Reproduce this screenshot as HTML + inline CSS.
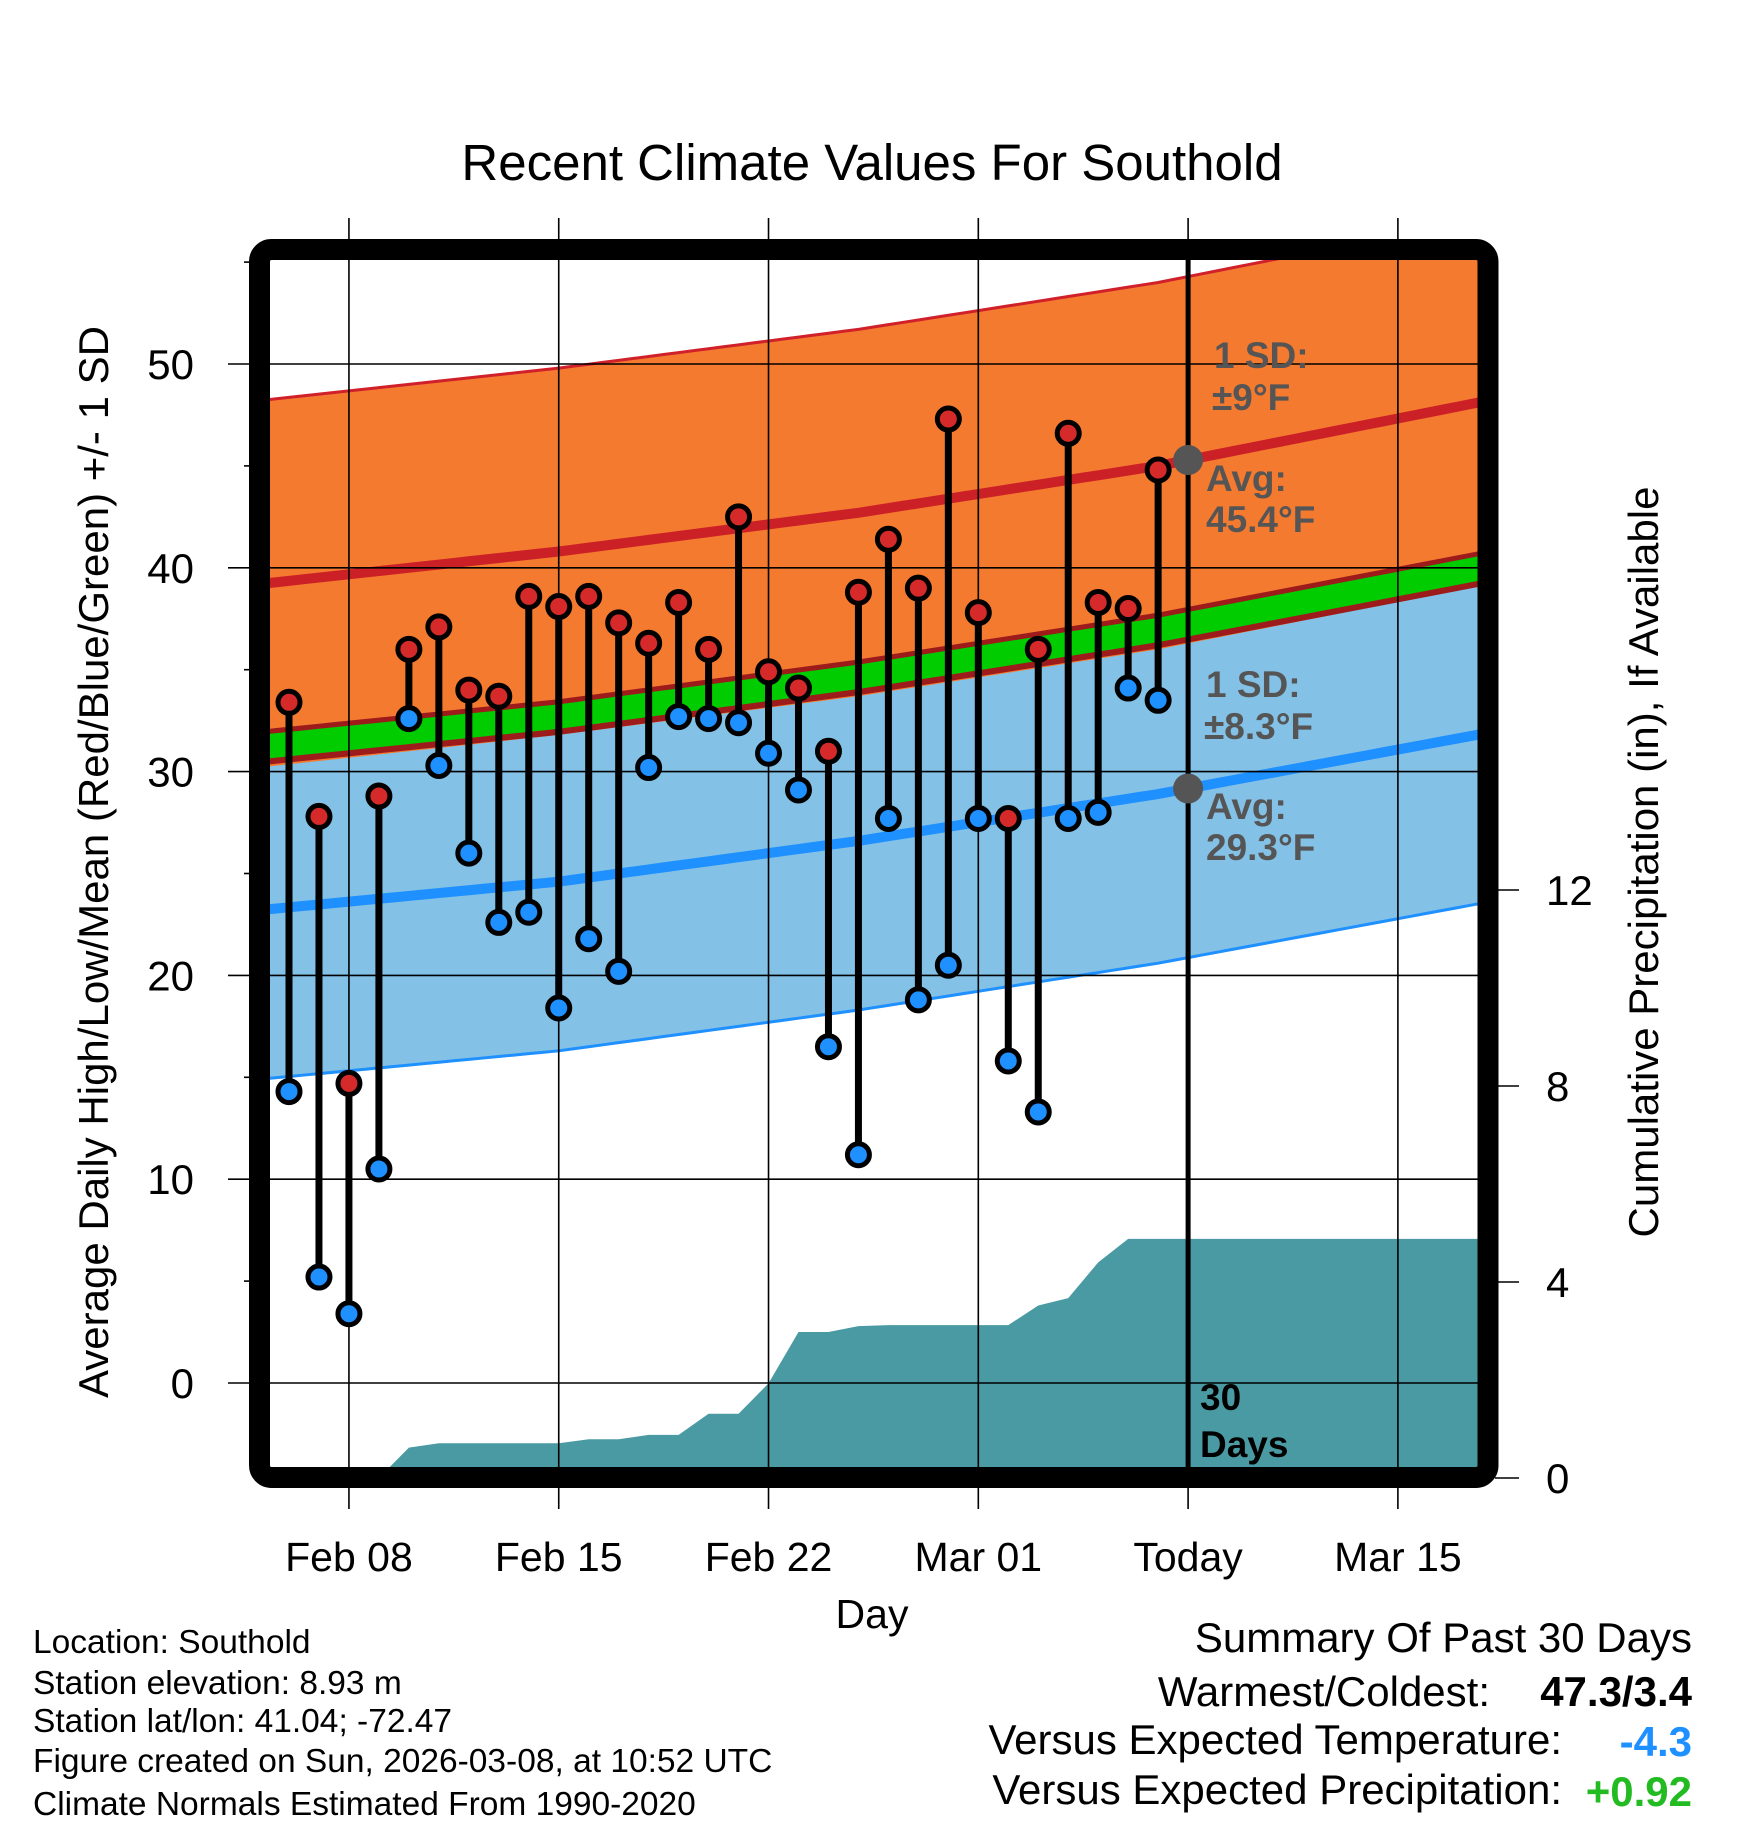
<!DOCTYPE html>
<html><head><meta charset="utf-8"><style>
html,body{margin:0;padding:0;background:#fff}
svg{display:block;font-family:"Liberation Sans",Arial,sans-serif}
</style></head><body>
<svg id="chart" width="1748" height="1828" viewBox="0 0 1748 1828" xmlns="http://www.w3.org/2000/svg">
<defs><clipPath id="plotclip"><rect x="270" y="260" width="1208" height="1208"/></clipPath></defs>
<text x="872" y="180" font-size="51" text-anchor="middle">Recent Climate Values For Southold</text>
<g id="fills" clip-path="url(#plotclip)"></g>
<g id="grid"></g>
<g id="marks"></g>
<rect x="259.5" y="249.5" width="1228.5" height="1228" rx="12" fill="none" stroke="#000" stroke-width="21"/>
<g id="axes"></g>
<text transform="translate(108,862) rotate(-90)" font-size="42" text-anchor="middle">Average Daily High/Low/Mean (Red/Blue/Green) +/- 1 SD</text>
<text transform="translate(1658,862) rotate(-90)" font-size="42" text-anchor="middle">Cumulative Precipitation (in), If Available</text>
<text x="872" y="1628" font-size="41" text-anchor="middle">Day</text>
<g font-size="37" font-weight="bold" fill="#555">
<text x="1214" y="368">1 SD:</text><text x="1212" y="410">±9°F</text>
<text x="1206" y="491">Avg:</text><text x="1206" y="532">45.4°F</text>
<text x="1206" y="697">1 SD:</text><text x="1204" y="739">±8.3°F</text>
<text x="1206" y="819">Avg:</text><text x="1206" y="860">29.3°F</text>
</g>
<g font-size="37" font-weight="bold">
<text x="1200" y="1410">30</text><text x="1200" y="1457">Days</text></g>
<g font-size="33.5">
<text x="33" y="1653">Location: Southold</text>
<text x="33" y="1694">Station elevation: 8.93 m</text>
<text x="33" y="1732">Station lat/lon: 41.04; -72.47</text>
<text x="33" y="1772">Figure created on Sun, 2026-03-08, at 10:52 UTC</text>
<text x="33" y="1815">Climate Normals Estimated From 1990-2020</text>
</g>
<g font-size="42" text-anchor="end">
<text x="1692" y="1652">Summary Of Past 30 Days</text>
<text x="1490" y="1706">Warmest/Coldest:</text>
<text x="1692" y="1706" font-weight="bold">47.3/3.4</text>
<text x="1562" y="1754">Versus Expected Temperature:</text>
<text x="1692" y="1756" font-weight="bold" fill="#1e90ff">-4.3</text>
<text x="1562" y="1804">Versus Expected Precipitation:</text>
<text x="1692" y="1806" font-weight="bold" fill="#22bb22">+0.92</text>
</g>
</svg>
<script>
const highs=[33.4,27.8,14.7,28.8,36.0,37.1,34.0,33.7,38.6,38.1,38.6,37.3,36.3,38.3,36.0,42.5,34.9,34.1,31.0,38.8,41.4,39.0,47.3,37.8,27.7,36.0,46.6,38.3,38.0,44.8];
const lows=[14.3,5.2,3.4,10.5,32.6,30.3,26.0,22.6,23.1,18.4,21.8,20.2,30.2,32.7,32.6,32.4,30.9,29.1,16.5,11.2,27.7,18.8,20.5,27.7,15.8,13.3,27.7,28.0,34.1,33.5];
const precip=[0,0,0,0,0.62,0.71,0.71,0.71,0.71,0.71,0.79,0.79,0.88,0.88,1.31,1.31,1.93,2.98,2.98,3.1,3.12,3.12,3.12,3.12,3.12,3.52,3.67,4.4,4.88,4.88];
const normDays=[-1,9,19,29,40];
const normHigh=[39.2,40.8,42.7,45.0,48.2];
const normLow=[23.2,24.6,26.6,28.9,31.9];
const sdHigh=9.0, sdLow=8.3;
const xTickDays=[2,9,16,23,30,37];
const xTickLabels=["Feb 08","Feb 15","Feb 22","Mar 01","Today","Mar 15"];
const yTicks=[0,10,20,30,40,50];
const y2Ticks=[0,4,8,12];
const NS="http://www.w3.org/2000/svg";
const X=d=>289+d*29.97, Y=v=>1383-v*20.38, YP=p=>1478-p*49;
function mk(tag,attrs,parent){const e=document.createElementNS(NS,tag);for(const k in attrs)e.setAttribute(k,attrs[k]);parent.appendChild(e);return e;}
function interp(arr,d){for(let i=0;i<normDays.length-1;i++){if(d<=normDays[i+1]){const t=(d-normDays[i])/(normDays[i+1]-normDays[i]);return arr[i]+(arr[i+1]-arr[i])*t;}}const n=arr.length-1;return arr[n]+(arr[n]-arr[n-1])/(normDays[n]-normDays[n-1])*(d-normDays[n]);}
const fills=document.getElementById('fills'),grid=document.getElementById('grid'),marks=document.getElementById('marks'),axes=document.getElementById('axes');
const ds=[];for(let d=-1.5;d<=40.6;d+=0.5)ds.push(d);
function band(f1,f2,color,name){let p=ds.map((d,i)=>(i?'L':'M')+X(d)+','+Y(f1(d))).join('');p+=ds.slice().reverse().map(d=>'L'+X(d)+','+Y(f2(d))).join('')+'Z';const e=mk('path',{d:p,fill:color},fills);

}
function line(f,color,w,name){const p=ds.map((d,i)=>(i?'L':'M')+X(d)+','+Y(f(d))).join('');const e=mk('path',{d:p,fill:'none',stroke:color,'stroke-width':w},fills);

}
const H=d=>interp(normHigh,d),L=d=>interp(normLow,d),M=d=>(H(d)+L(d))/2;
band(d=>L(d)+sdLow,d=>L(d)-sdLow,'#84c1e6','low-sd-band');
line(d=>L(d)-sdLow,'#1e90ff',3,'low-sd-lower-line');
band(d=>H(d)+sdHigh,d=>H(d)-sdHigh,'#f47a2f','high-sd-band');
line(d=>H(d)+sdHigh,'#d0202a',3,'high-sd-upper-line');
band(d=>M(d)+0.85,d=>M(d)-0.9,'#9e1b1b','mean-border');
band(d=>M(d)+0.6,d=>M(d)-0.6,'#00cc00','mean-band');
line(H,'#cc2027',10,'avg-high-line');
line(L,'#1e90ff',10,'avg-low-line');
let pp='M'+X(-1.5)+','+YP(0);
precip.forEach((v,i)=>{pp+='L'+X(i)+','+YP(v);});
pp+='L'+X(41)+','+YP(precip[precip.length-1])+'L'+X(41)+','+YP(0)+'Z';
const pe=mk('path',{d:pp,fill:'#4a9aa4'},fills);


xTickDays.forEach((d,i)=>{const l=mk('line',{x1:X(d),x2:X(d),y1:218,y2:1509,stroke:'#000','stroke-width':1.6},grid);


const t=mk('text',{x:X(d),y:1571,'font-size':41,'text-anchor':'middle'},axes);t.textContent=xTickLabels[i];

});
yTicks.forEach(v=>{const l=mk('line',{x1:228,x2:1478,y1:Y(v),y2:Y(v),stroke:'#000','stroke-width':1.6},grid);


const t=mk('text',{x:194,y:Y(v)+15,'font-size':42,'text-anchor':'end'},axes);t.textContent=v;

});
[5,15,25,35,45,55].forEach(v=>{const l=mk('line',{x1:244,x2:250,y1:Y(v),y2:Y(v),stroke:'#000','stroke-width':1.6},axes);

});
y2Ticks.forEach(v=>{const l=mk('line',{x1:1495,x2:1519,y1:YP(v),y2:YP(v),stroke:'#000','stroke-width':1.6},axes);


const t=mk('text',{x:1546,y:YP(v)+15,'font-size':42},axes);t.textContent=v;

});
const tl=mk('line',{x1:X(30),x2:X(30),y1:255,y2:1470,stroke:'#000','stroke-width':5},grid);


highs.forEach((h,i)=>{const s=mk('line',{x1:X(i),x2:X(i),y1:Y(h),y2:Y(lows[i]),stroke:'#000','stroke-width':7},marks);

});
highs.forEach((h,i)=>{const c=mk('circle',{cx:X(i),cy:Y(h),r:11,fill:'#d62a2a',stroke:'#000','stroke-width':5},marks);


const c2=mk('circle',{cx:X(i),cy:Y(lows[i]),r:11,fill:'#1e90ff',stroke:'#000','stroke-width':5},marks);

});
[H(30),L(30)].forEach(v=>{const c=mk('circle',{cx:X(30),cy:Y(v),r:15,fill:'#555'},marks);

});
</script>
</body></html>
